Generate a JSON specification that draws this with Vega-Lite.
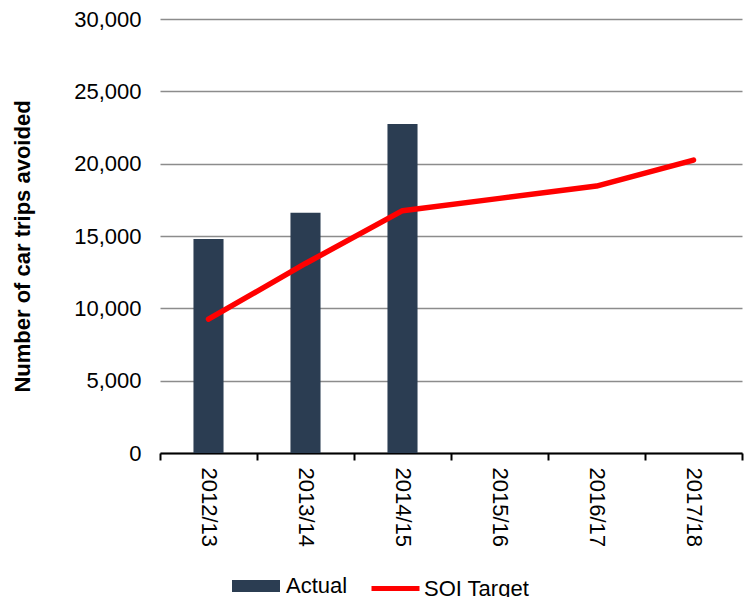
{
  "$schema": "https://vega.github.io/schema/vega-lite/v6.json",
  "width": 582,
  "height": 434,
  "autosize": {"type": "none"},
  "padding": {"left": 160, "top": 19, "right": 2, "bottom": 144},
  "background": "white",
  "config": {
    "view": {"stroke": null},
    "font": "Liberation Sans",
    "axis": {"labelFont": "Liberation Sans", "titleFont": "Liberation Sans", "labelColor": "#000000", "titleColor": "#000000"},
    "legend": {"labelFont": "Liberation Sans", "labelColor": "#000000"}
  },
  "data": {
    "values": [
      {"year": "2012/13", "actual": 14800, "target": 9250},
      {"year": "2013/14", "actual": 16600, "target": 13100},
      {"year": "2014/15", "actual": 22750, "target": 16750},
      {"year": "2015/16", "actual": null, "target": 17600},
      {"year": "2016/17", "actual": null, "target": 18450},
      {"year": "2017/18", "actual": null, "target": 20250}
    ]
  },
  "encoding": {
    "x": {
      "field": "year",
      "type": "ordinal",
      "scale": {"paddingInner": 0, "paddingOuter": 0},
      "axis": {
        "title": null,
        "labelAngle": 90,
        "labelFontSize": 22,
        "labelPadding": 7,
        "domainColor": "#000000",
        "domainWidth": 2,
        "tickColor": "#000000",
        "tickWidth": 2,
        "tickSize": 7,
        "tickBand": "extent",
        "grid": false
      }
    }
  },
  "layer": [
    {
      "mark": {"type": "bar", "width": {"band": 0.31}},
      "encoding": {
        "y": {
          "field": "actual",
          "type": "quantitative",
          "scale": {"domain": [0, 30000]},
          "axis": {
            "title": "Number of car trips avoided",
            "titleFontSize": 22,
            "titleFontWeight": "bold",
            "titleAngle": -90,
            "titleX": -138,
            "titleY": 227,
            "titleAlign": "center",
            "titleBaseline": "middle",
            "values": [0, 5000, 10000, 15000, 20000, 25000, 30000],
            "format": ",d",
            "labelFontSize": 22,
            "labelPadding": 19,
            "domain": false,
            "ticks": false,
            "grid": true,
            "gridColor": "#8c8c8c",
            "gridWidth": 1.5
          }
        },
        "fill": {
          "datum": "Actual",
          "scale": {"range": ["#2b3d52"]},
          "legend": {
            "title": null,
            "orient": "none",
            "legendX": 72,
            "legendY": 543,
            "padding": 0,
            "symbolType": "M-1,-0.25H1V0.25H-1Z",
            "symbolSize": 2304,
            "symbolStrokeWidth": 0,
            "labelFontSize": 22,
            "labelOffset": 6
          }
        }
      }
    },
    {
      "mark": {"type": "line", "strokeWidth": 5.5, "strokeCap": "round", "strokeJoin": "round"},
      "encoding": {
        "y": {"field": "target", "type": "quantitative"},
        "stroke": {
          "datum": "SOI Target",
          "scale": {"range": ["#ff0000"]},
          "legend": {
            "title": null,
            "orient": "none",
            "legendX": 209,
            "legendY": 543,
            "padding": 0,
            "symbolType": "M-1,0H1",
            "symbolSize": 2304,
            "symbolStrokeWidth": 5,
            "labelFontSize": 22,
            "labelOffset": 2
          }
        }
      }
    }
  ]
}
